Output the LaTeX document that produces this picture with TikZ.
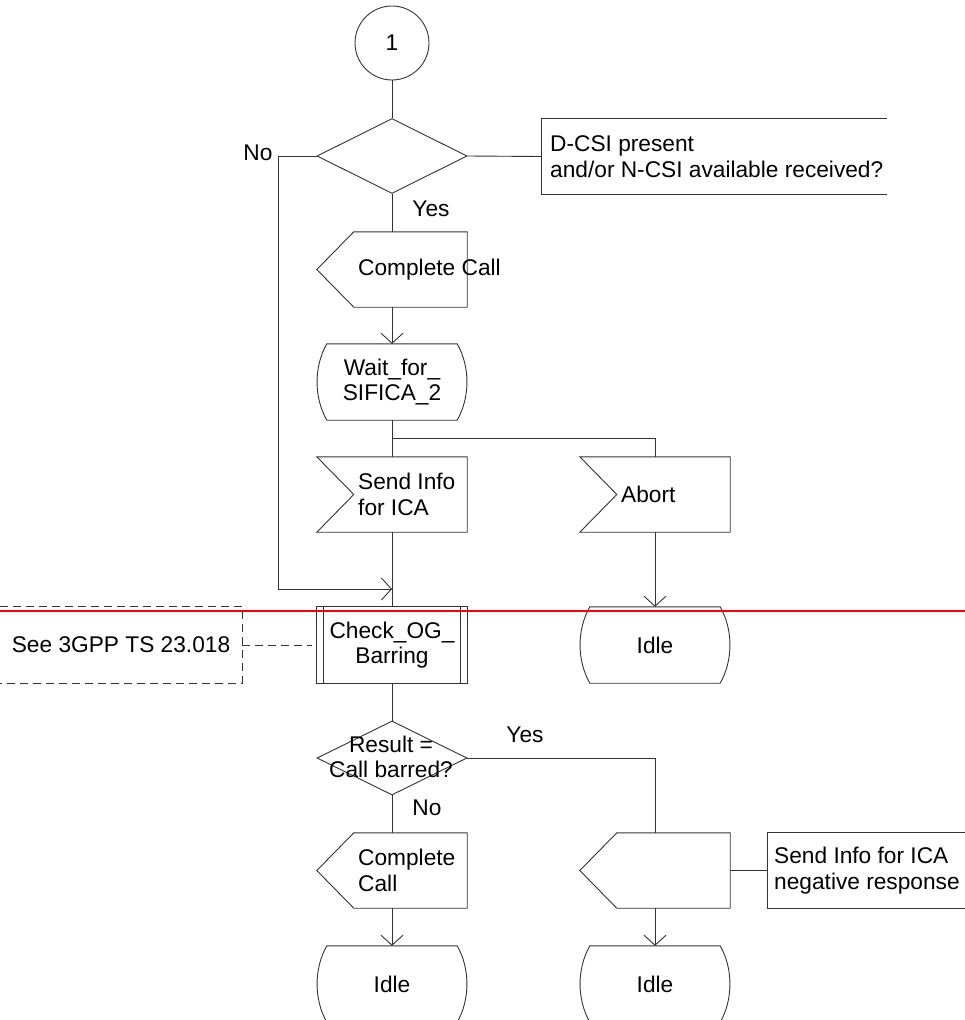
\documentclass[tikz,border=0pt]{standalone}
\usepackage{fontspec}
\setmainfont{Liberation Sans}
\usetikzlibrary{shapes.geometric,arrows.meta,calc}
\tikzset{
 ln/.style={draw=black!80, line width=0.9pt},
 arr/.style={-{Straight Barb[length=10pt,width=22pt]}},
 frm/.style={inner sep=0pt, minimum width=150pt, minimum height=75pt, draw=none},
 txt/.style={inner sep=0pt, align=left, anchor=west},
 dsh/.style={dash pattern=on 8pt off 5pt},
}
\newcommand\drawoutput[1]{\draw[ln] ($(#1.north west)+(37,0)$) -- (#1.north east) -- (#1.south east) -- ($(#1.south west)+(37,0)$) -- (#1.west) -- cycle;}
\newcommand\drawinput[1]{\draw[ln] (#1.north west) -- (#1.north east) -- (#1.south east) -- (#1.south west) -- ($(#1.west)+(37,0)$) -- cycle;}
\newcommand\drawstate[1]{\draw[ln] ($(#1.north west)+(10,0)$) -- ($(#1.north east)+(-10,0)$) .. controls ($(#1.north east)+(3,23)$) and ($(#1.south east)+(3,-23)$) .. ($(#1.south east)+(-10,0)$) -- ($(#1.south west)+(10,0)$) .. controls ($(#1.south west)+(-3,-23)$) and ($(#1.north west)+(-3,23)$) .. ($(#1.north west)+(10,0)$) -- cycle;}
\newcommand\drawproc[1]{\draw[ln] (#1.north west) rectangle (#1.south east);
 \draw[ln] ($(#1.north west)+(7,0)$) -- ($(#1.south west)+(7,0)$);
 \draw[ln] ($(#1.north east)+(-7,0)$) -- ($(#1.south east)+(-7,0)$);}
\newcommand\drawcmt[1]{\draw[ln] (#1.north east) -- (#1.north west) -- (#1.south west) -- (#1.south east);}
\begin{document}
\begin{tikzpicture}[x=1pt,y=-1pt, every node/.style={font=\fontsize{22.7}{25.5}\selectfont}]
\useasboundingbox (0,0) rectangle (965,1020);
\fill[white] (0,0) rectangle (965,1020);
% nodes
\node[circle, ln, minimum size=74pt, inner sep=0pt] (start) at (392,43) {1};
\node[diamond, ln, aspect=2, inner sep=0pt, minimum width=150pt, minimum height=75pt] (d1) at (392,156) {};
\node[frm, minimum width=345pt] (c1) at (714.5,156.5) {};
\node[txt] at (550,156.5) {D-CSI present\\and/or N-CSI available received?};
\node[frm] (cc1) at (392,269.5) {};
\node[txt] at (358,269.5) {Complete Call};
\node[frm, minimum height=76pt, align=center] (w) at (392,382) {Wait\_for\_\\SIFICA\_2};
\node[frm] (si) at (392,494.5) {};
\node[txt] at (358,494.5) {Send Info\\for ICA};
\node[frm] (ab) at (655,494.5) {};
\node[txt] at (621,494.5) {Abort};
\node[frm, minimum height=76pt] (chk) at (392,645) {};
\node[align=center, inner sep=0pt] at (392,645) {Check\_OG\_\\Barring};
\node[frm, minimum height=76pt] (idle1) at (655,645) {Idle};
\node[frm, minimum width=242pt, minimum height=76pt] (c2) at (121,645) {};
\node[inner sep=0pt] at (121,645) {See 3GPP TS 23.018};
\node[diamond, ln, aspect=2, inner sep=0pt, minimum width=150pt, minimum height=74pt] (d2) at (392,758) {};
\node[align=center, inner sep=0pt] at (391,757) {Result =\\Call barred?};
\node[frm] (cc2) at (392,870.5) {};
\node[txt] at (358,870.5) {Complete\\Call};
\node[frm] (neg) at (655,870.5) {};
\node[frm, minimum width=202pt] (c3) at (869,870.5) {};
\node[txt] at (774,870.5) {Send Info for ICA\\negative response};
\node[frm, minimum height=76pt] (idle2) at (392,984) {Idle};
\node[frm, minimum height=76pt] (idle3) at (655,984) {Idle};
\coordinate (br) at (392,438);
\coordinate (join) at (392,589);
% shapes
\drawcmt{c1}
\drawoutput{cc1}
\drawstate{w}
\drawinput{si}
\drawinput{ab}
\drawproc{chk}
\drawstate{idle1}
\draw[ln,dsh] (c2.north west) -- (c2.north east) -- (c2.south east) -- (c2.south west);
\drawoutput{cc2}
\drawoutput{neg}
\drawcmt{c3}
\drawstate{idle2}
\drawstate{idle3}
% labels
\node at (258,153) {No};
\node at (431,209) {Yes};
\node at (525,735) {Yes};
\node at (427,808) {No};
% connectors
\draw[ln] (start) -- (d1);
\draw[ln] (d1.east) -- (c1.west);
\draw[ln] (d1.south) -- (cc1.north);
\draw[ln,arr] (cc1.south) -- (w.north);
\draw[ln] (w.south) -- (si.north);
\draw[ln] (br) -| (ab.north);
\draw[ln,arr] (ab.south) -- (idle1.north);
\draw[ln] (si.south) -- (chk.north);
\draw[ln,arr] (d1.west) -- ++(-38,0) |- (join);
\draw[ln,dsh] (c2.east) -- ($(chk.west)+(-5,0)$);
\draw[ln] (chk.south) -- (d2.north);
\draw[ln] (d2.south) -- (cc2.north);
\draw[ln] (d2.east) -| (neg.north);
\draw[ln] (neg.east) -- (c3.west);
\draw[ln,arr] (cc2.south) -- (idle2.north);
\draw[ln,arr] (neg.south) -- (idle3.north);
% red marker line
\draw[red, line width=1.6pt] (0,611) -- (965,611);
\end{tikzpicture}
\end{document}
